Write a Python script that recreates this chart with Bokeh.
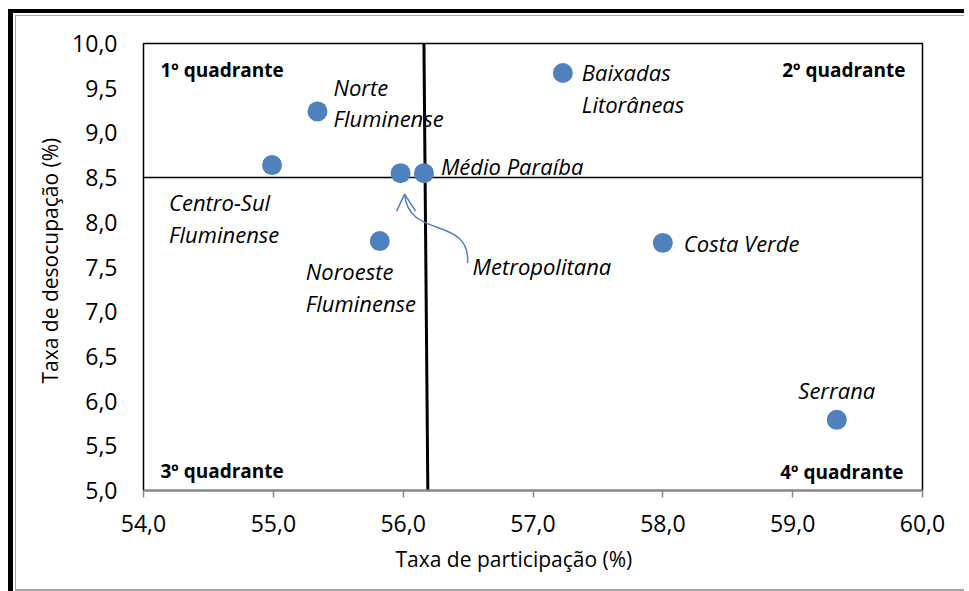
from bokeh.plotting import figure
from bokeh.models import Range1d, FixedTicker, CustomJSTickFormatter, Title
from bokeh.embed import file_html
from bokeh.resources import INLINE
from bokeh.core.properties import value

# ---------------- data ----------------
regioes = ["Norte\nFluminense", "Centro-Sul\nFluminense", "Metropolitana", "Médio Paraíba",
           "Noroeste\nFluminense", "Baixadas\nLitorâneas", "Costa Verde", "Serrana"]
taxa_participacao = [55.34, 54.99, 55.98, 56.16, 55.82, 57.23, 58.00, 59.34]
taxa_desocupacao = [9.24, 8.64, 8.55, 8.55, 7.79, 9.67, 7.77, 5.79]

media_desocupacao = 8.5
linha_media_x = [56.16, 56.19]
linha_media_y = [10.0, 5.0]

x_ticks = [54.0, 55.0, 56.0, 57.0, 58.0, 59.0, 60.0]
x_tick_labels = ["54,0", "55,0", "56,0", "57,0", "58,0", "59,0", "60,0"]
y_ticks = [5.0, 5.5, 6.0, 6.5, 7.0, 7.5, 8.0, 8.5, 9.0, 9.5, 10.0]
y_tick_labels = ["5,0", "5,5", "6,0", "6,5", "7,0", "7,5", "8,0", "8,5", "9,0", "9,5", "10,0"]

quadrantes = ["1º quadrante", "2º quadrante", "3º quadrante", "4º quadrante"]
titulo_x = "Taxa de participação (%)"
titulo_y = "Taxa de desocupação (%)"

# ---------------- layout ----------------
X0, X1, Y0, Y1 = 54.0, 60.0, 5.0, 10.0
W, H = 956, 582
ML, MT, MR, MB = 130, 30, 47, 105
FW, FH = W - ML - MR, H - MT - MB
PX = FW / (X1 - X0)   # pixels per x unit
PY = FH / (Y1 - Y0)   # pixels per y unit

# label offsets in pixels (dx, dy down-positive, align)
label_layout = [(16, -9, "left"), (-103, 53, "left"), (72, 93, "left"), (17, -7, "left"),
                (-74, 46, "left"), (19, 15, "left"), (21, 0, "left"), (0, -30, "center")]

FONT = "Open Sans"
BLUE = "#4F81BD"

p = figure(width=W, height=H, output_backend="svg", toolbar_location=None,
           x_range=Range1d(X0, X1), y_range=Range1d(Y0, Y1),
           min_border_left=ML, min_border_top=MT, min_border_right=MR, min_border_bottom=MB,
           background_fill_color="white", border_fill_color=None)
p.styles = {
    "margin-left": "8px",
    "margin-top": "9px",
    "border-left": "5px solid black",
    "border-top": "4px solid black",
    "box-shadow": "inset 2px 2px 0 0 white, inset 3px 3px 0 0 #a6a6a6, inset 0 -2px 0 0 #a6a6a6",
}
p.outline_line_color = "black"
p.outline_line_width = 1.5
p.xgrid.visible = False
p.ygrid.visible = False

fmt_code = """
const i = tvals.findIndex(t => Math.abs(t - tick) < 1e-9);
return i >= 0 ? labs[i] : "";
"""
p.xaxis.ticker = FixedTicker(ticks=x_ticks)
p.xaxis.formatter = CustomJSTickFormatter(args=dict(tvals=x_ticks, labs=x_tick_labels), code=fmt_code)
p.yaxis.ticker = FixedTicker(ticks=y_ticks)
p.yaxis.formatter = CustomJSTickFormatter(args=dict(tvals=y_ticks, labs=y_tick_labels), code=fmt_code)

for ax in (p.xaxis[0], p.yaxis[0]):
    ax.major_label_text_font = FONT
    ax.major_label_text_font_size = "23px"
    ax.major_label_text_color = "black"
    ax.minor_tick_line_color = None

p.xaxis.axis_line_color = "#898989"
p.xaxis.axis_line_width = 2
p.xaxis.major_tick_line_color = "#898989"
p.xaxis.major_tick_line_width = 1.5
p.xaxis.major_tick_out = 7
p.xaxis.major_tick_in = 0
p.xaxis.major_label_standoff = 17

p.yaxis.axis_line_color = None
p.yaxis.major_tick_line_color = None
p.yaxis.major_tick_out = 0
p.yaxis.major_tick_in = 0
p.yaxis.major_label_standoff = 26

# axis titles as panel titles (allow a horizontal/vertical shift like the original)
p.add_layout(Title(text=titulo_x, align="left", offset=252, standoff=16,
                   text_font=FONT, text_font_size="21px", text_font_style="normal",
                   text_color="black"), "below")
p.add_layout(Title(text=titulo_y, align="left", offset=107, standoff=11,
                   text_font=FONT, text_font_size="21px", text_font_style="normal",
                   text_color="black"), "left")

# reference lines
p.line([X0, X1], [media_desocupacao, media_desocupacao], line_color="black", line_width=1.5)
p.line(linha_media_x, linha_media_y, line_color="black", line_width=3)

# points
p.scatter(taxa_participacao, taxa_desocupacao, size=20, fill_color=BLUE, line_color=None)

# labels
for i, (name, xv, yv) in enumerate(zip(regioes, taxa_participacao, taxa_desocupacao)):
    dx, dy, al = label_layout[i]
    p.text([xv], [yv], text=[name], x_offset=dx, y_offset=dy, text_align=al,
           text_baseline="middle", text_font=value(FONT), text_font_style="italic",
           text_font_size="22px", text_color="black", text_line_height=1.05)

# quadrant labels
q_pos = [(X0, Y1, 17, 26, "left"), (X1, Y1, -17, 26, "right"),
         (X0, Y0, 17, -20, "left"), (X1, Y0, -19, -19, "right")]
for q, (qx, qy, dx, dy, al) in zip(quadrantes, q_pos):
    p.text([qx], [qy], text=[q], x_offset=dx, y_offset=dy, text_align=al,
           text_baseline="middle", text_font=value(FONT), text_font_style="bold",
           text_font_size="19px", text_color="black")

# curved arrow pointing to Metropolitana
mx, my = taxa_participacao[2], taxa_desocupacao[2]
def pt(dxp, dyp):
    return mx + dxp / PX, my - dyp / PY
tip = pt(4, 21)
end = pt(67, 90)
c0 = pt(8, 67)
c1 = pt(70, 42)
p.bezier(x0=[end[0]], y0=[end[1]], x1=[tip[0]], y1=[tip[1]],
         cx0=[c1[0]], cy0=[c1[1]], cx1=[c0[0]], cy1=[c0[1]],
         line_color=BLUE, line_width=1.5)
h1 = pt(-4, 38)
h2 = pt(15, 38)
p.multi_line([[h1[0], tip[0], h2[0]]], [[h1[1], tip[1], h2[1]]], line_color=BLUE, line_width=1.5)

open("out.html", "w").write(file_html(p, INLINE))
